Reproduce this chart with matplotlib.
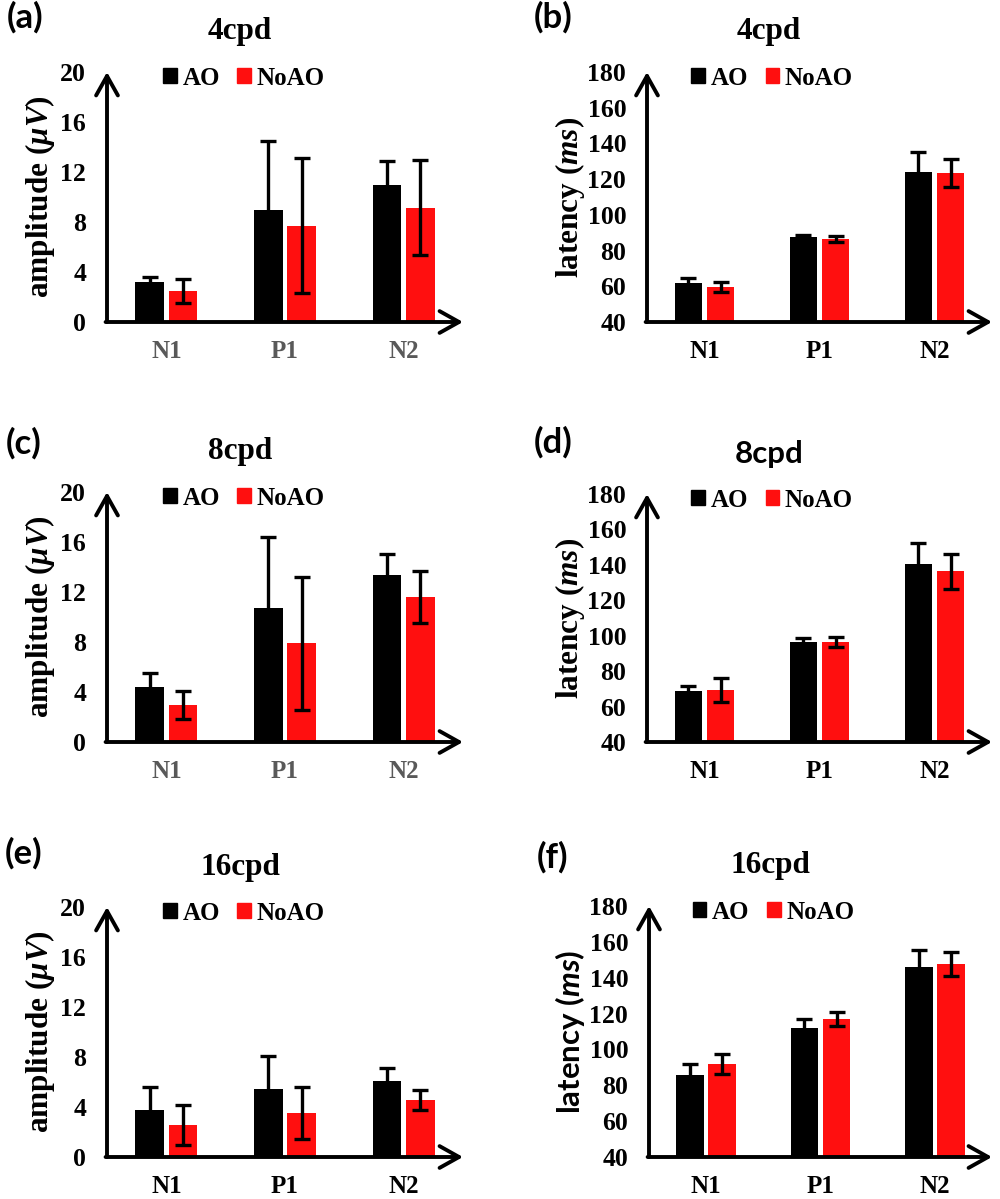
import numpy as np
import matplotlib
matplotlib.use("Agg")
import matplotlib.pyplot as plt
from matplotlib.patches import Patch

plt.rcParams['font.family'] = ['Liberation Serif', 'DejaVu Serif']
plt.rcParams['font.weight'] = 'bold'
plt.rcParams['mathtext.fontset'] = 'custom'
plt.rcParams['mathtext.rm'] = 'Liberation Serif:bold'
plt.rcParams['mathtext.it'] = 'Liberation Serif:italic:bold'
plt.rcParams['mathtext.sf'] = 'Lato:italic:bold'

# ---- data ----
categories = ['N1', 'P1', 'N2']
series_names = ['AO', 'NoAO']

amp_4_ao = [3.2, 9.0, 11.0]
amp_4_ao_err = [0.4, 5.5, 1.9]
amp_4_noao = [2.5, 7.7, 9.15]
amp_4_noao_err = [0.95, 5.4, 3.8]

lat_4_ao = [61.7, 87.4, 124.0]
lat_4_ao_err = [2.8, 1.3, 11.0]
lat_4_noao = [59.4, 86.5, 123.4]
lat_4_noao_err = [2.8, 1.7, 8.0]

amp_8_ao = [4.37, 10.7, 13.4]
amp_8_ao_err = [1.15, 5.7, 1.65]
amp_8_noao = [2.98, 7.9, 11.6]
amp_8_noao_err = [1.1, 5.3, 2.1]

lat_8_ao = [68.6, 96.4, 140.4]
lat_8_ao_err = [2.9, 2.5, 11.9]
lat_8_noao = [69.2, 96.6, 136.3]
lat_8_noao_err = [6.9, 2.9, 10.0]

amp_16_ao = [3.73, 5.46, 6.05]
amp_16_ao_err = [1.87, 2.6, 1.07]
amp_16_noao = [2.56, 3.52, 4.58]
amp_16_noao_err = [1.6, 2.05, 0.8]

lat_16_ao = [85.5, 112.2, 146.2]
lat_16_ao_err = [6.3, 4.8, 9.3]
lat_16_noao = [92.0, 116.9, 147.7]
lat_16_noao_err = [5.5, 3.7, 6.5]

amp_ticks = [0, 4, 8, 12, 16, 20]
lat_ticks = [40, 60, 80, 100, 120, 140, 160, 180]

BLACK = '#000000'
RED = '#FF0F0F'
GRAY = '#595959'
W = 1000.0
H = 1199.0


def px_axes(left, right, top, bottom):
    return [left / W, 1 - bottom / H, (right - left) / W, (bottom - top) / H]


def panel(fig, rect, ao, ao_err, noao, noao_err, ylim, yticks, ylabel,
          title, tick_color, title_font, label_font, ylab_x,
          leg_x, title_x):
    ax = fig.add_axes(rect)
    x = np.arange(len(categories))
    bw = 0.24
    off = 0.14
    ek = dict(ecolor='black', elinewidth=2.4, capsize=5.5, capthick=2.4)
    ax.bar(x - off, ao, bw, color=BLACK, yerr=ao_err, error_kw=ek, zorder=2)
    ax.bar(x + off, noao, bw, color=RED, yerr=noao_err, error_kw=ek, zorder=2)
    ax.set_xlim(-0.5, 2.5)
    ax.set_ylim(*ylim)
    ax.set_yticks(yticks)
    ax.set_yticklabels([str(t) for t in yticks], fontsize=18.5, fontweight='bold')
    ax.set_xticks(x)
    ax.set_xticklabels(categories, fontsize=18, fontweight='bold', color=tick_color)
    ax.tick_params(length=0, axis='x', pad=13)
    ax.tick_params(length=0, axis='y', pad=15)
    for s in ax.spines.values():
        s.set_visible(False)
    arrow = dict(arrowstyle='->,head_length=0.5,head_width=0.28', lw=2.8,
                 color='black', shrinkA=0, shrinkB=0, mutation_scale=28)
    ax.annotate('', xy=(0, 1), xytext=(0, 0), xycoords='axes fraction',
                arrowprops=arrow)
    ax.annotate('', xy=(1, 0), xytext=(-0.004, 0), xycoords='axes fraction',
                arrowprops=arrow)
    ax.set_ylabel(ylabel, fontsize=22.5, fontweight='bold', family=label_font)
    ax.yaxis.set_label_coords(ylab_x, 0.5)
    handles = [Patch(color=BLACK), Patch(color=RED)]
    ax.legend(handles, series_names, ncol=2, loc='center',
              bbox_to_anchor=(leg_x, 0.975), frameon=False,
              prop={'family': 'Liberation Serif', 'weight': 'bold', 'size': 18},
              handlelength=0.55, handleheight=0.55, handletextpad=0.22,
              columnspacing=0.7, borderpad=0)
    ax.text(title_x, 1.0 + 40 / (rect[3] * H), title, transform=ax.transAxes,
            ha='center', va='center', fontsize=22.5, fontweight='bold',
            family=title_font)
    return ax


fig = plt.figure(figsize=(10, 11.99), dpi=100)

amp_label = r'amplitude ($\mu V$)'
lat_label = r'latency ($ms$)'
lat_label_sans = r'latency ($\mathsf{ms}$)'
SERIF = 'Liberation Serif'
SANS = 'Lato'

panels = [
    (px_axes(107, 463, 72, 322), amp_4_ao, amp_4_ao_err, amp_4_noao, amp_4_noao_err,
     (0, 20), amp_ticks, amp_label, '4cpd', GRAY, SERIF, SERIF, -0.14, 0.385, 0.374),
    (px_axes(647, 992, 72, 322), lat_4_ao, lat_4_ao_err, lat_4_noao, lat_4_noao_err,
     (40, 180), lat_ticks, lat_label, '4cpd', BLACK, SERIF, SERIF, -0.175, 0.363, 0.354),
    (px_axes(107, 463, 492, 742), amp_8_ao, amp_8_ao_err, amp_8_noao, amp_8_noao_err,
     (0, 20), amp_ticks, amp_label, '8cpd', GRAY, SERIF, SERIF, -0.14, 0.385, 0.374),
    (px_axes(647, 992, 494, 742), lat_8_ao, lat_8_ao_err, lat_8_noao, lat_8_noao_err,
     (40, 180), lat_ticks, lat_label, '8cpd', BLACK, SANS, SERIF, -0.175, 0.363, 0.354),
    (px_axes(107, 463, 907, 1157), amp_16_ao, amp_16_ao_err, amp_16_noao, amp_16_noao_err,
     (0, 20), amp_ticks, amp_label, '16cpd', BLACK, SERIF, SERIF, -0.14, 0.385, 0.374),
    (px_axes(649, 992, 906, 1157), lat_16_ao, lat_16_ao_err, lat_16_noao, lat_16_noao_err,
     (40, 180), lat_ticks, lat_label_sans, '16cpd', BLACK, SERIF, SANS, -0.18, 0.363, 0.354),
]

for p in panels:
    panel(fig, *p)

letters = [('(a)', 25, 17), ('(b)', 553, 17), ('(c)', 24, 443),
           ('(d)', 553, 442), ('(e)', 24, 853), ('(f)', 553, 857)]
for txt, lx, ly in letters:
    fig.text(lx / W, 1 - ly / H, txt, ha='center', va='center', fontsize=25,
             fontweight='bold', family='Lato')

fig.savefig('out.png', dpi=100)
